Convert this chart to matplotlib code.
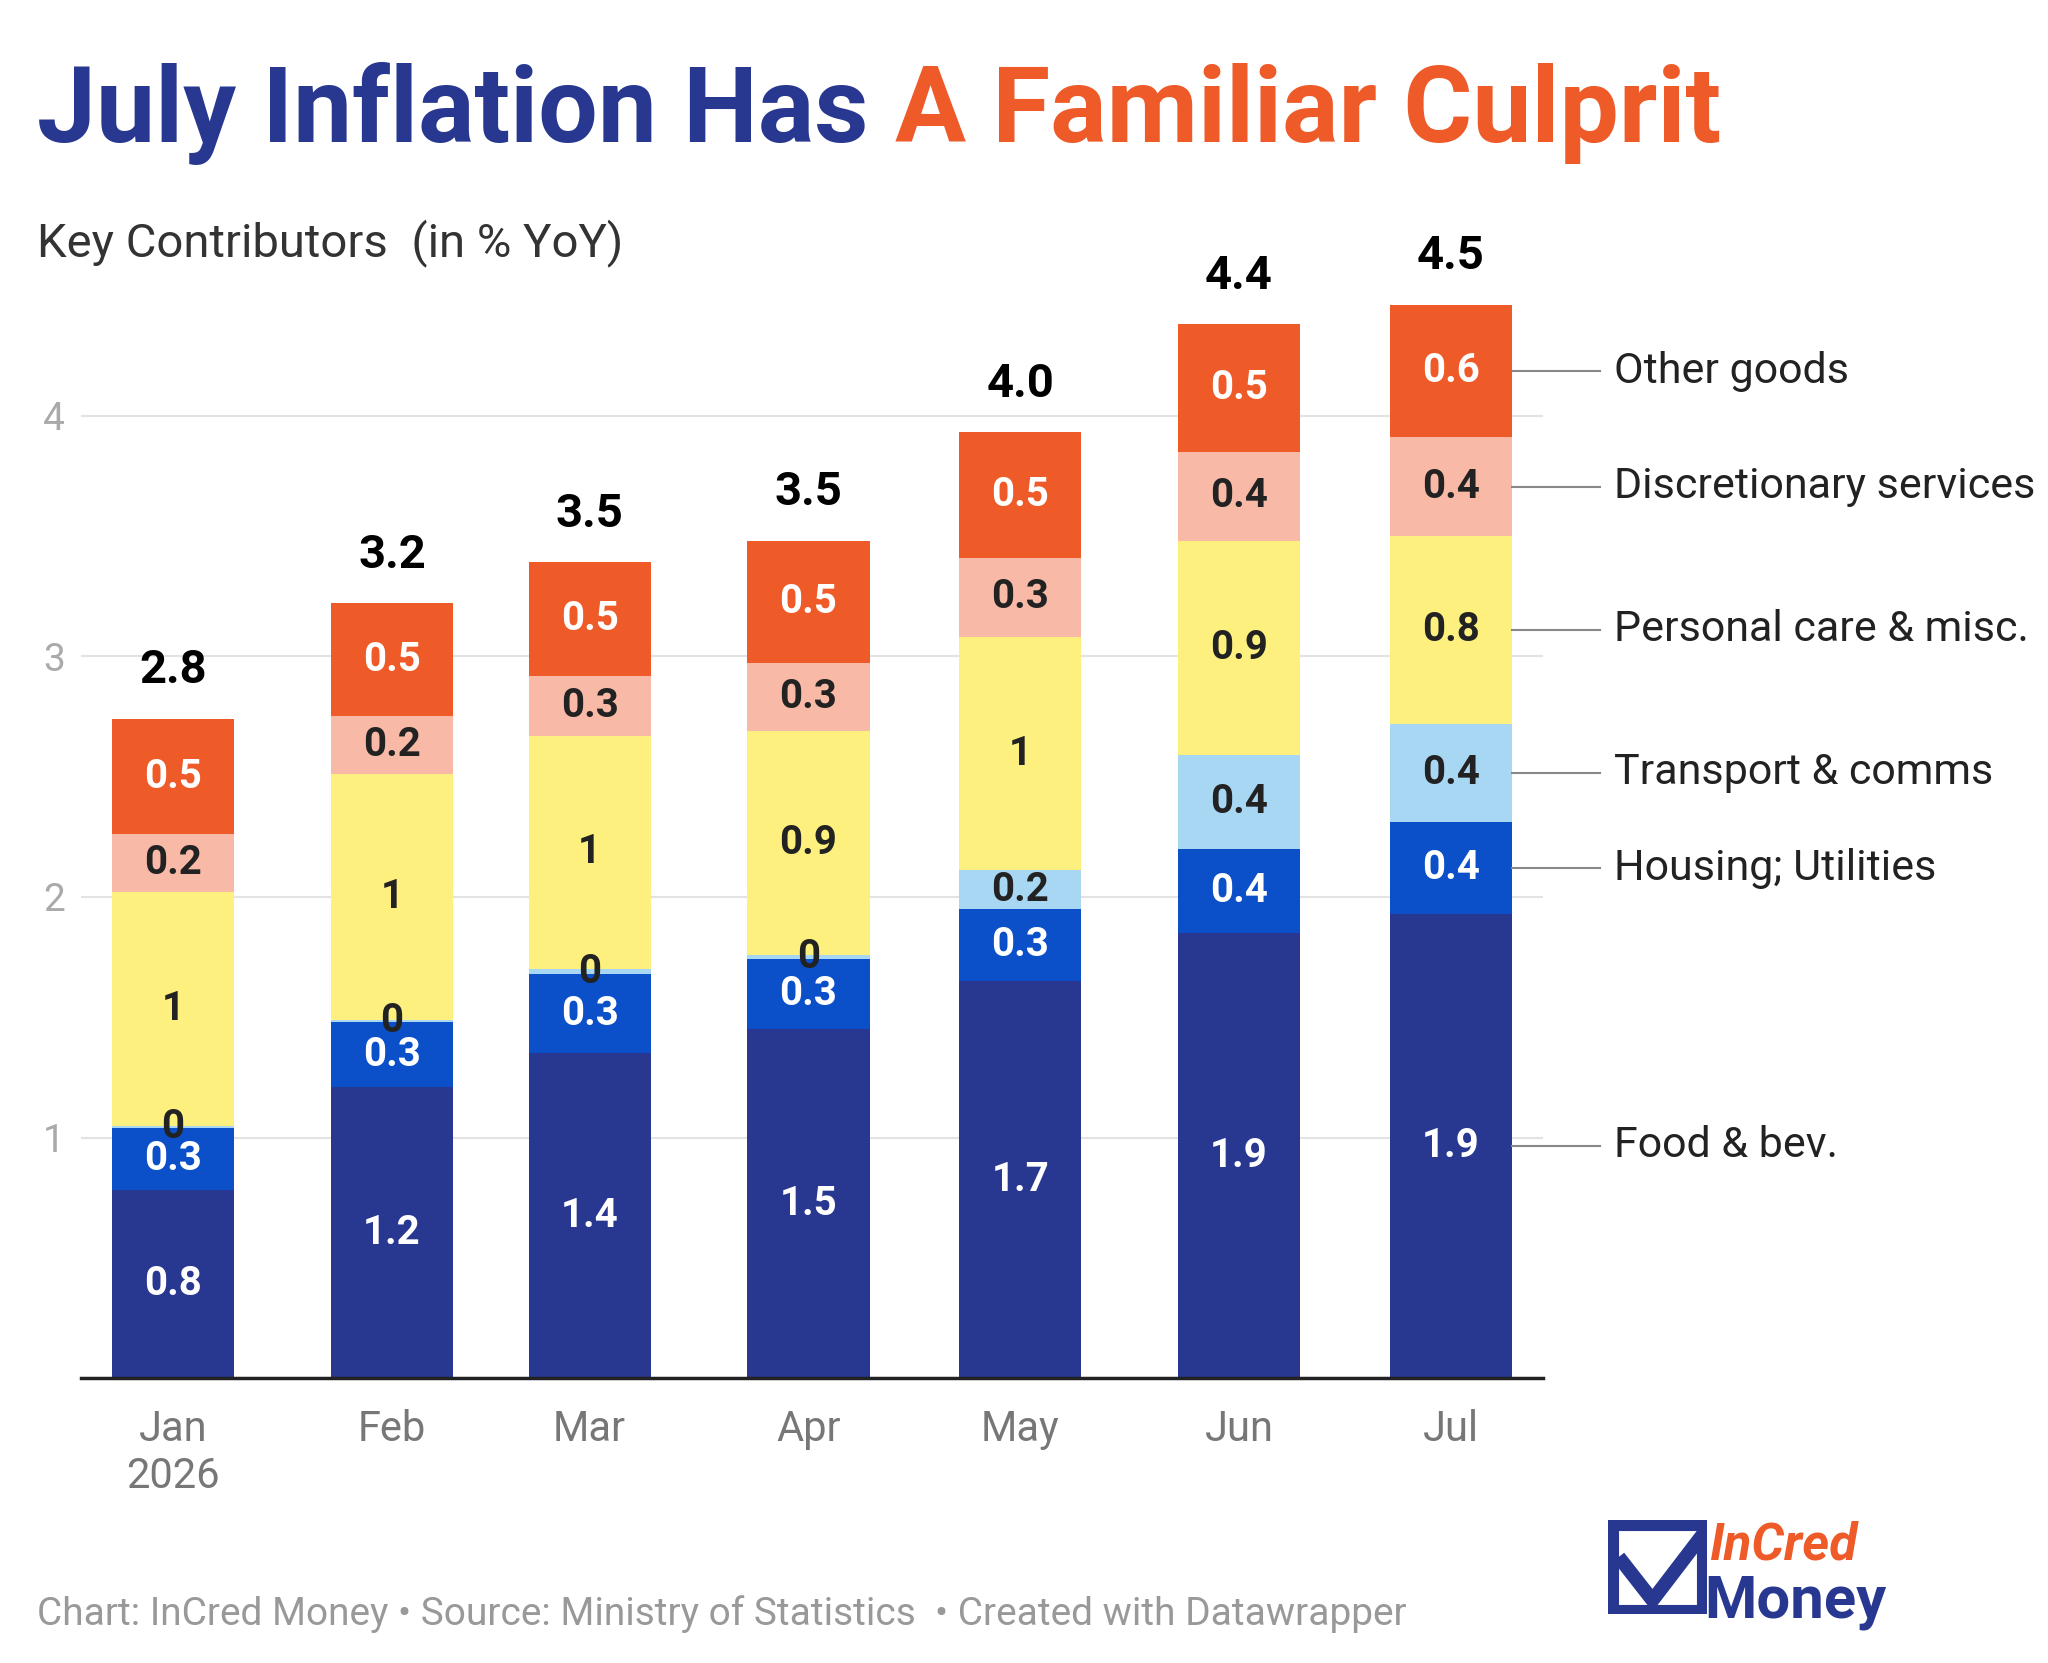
import matplotlib.pyplot as plt
import numpy as np

months = ["Jan\n2026", "Feb", "Mar", "Apr", "May", "Jun", "Jul"]
day_pos = [0, 31, 59, 90, 120, 151, 181]
series = ["Food & bev.", "Housing; Utilities", "Transport & comms",
          "Personal care & misc.", "Discretionary services", "Other goods"]
food = [0.78, 1.21, 1.35, 1.45, 1.65, 1.85, 1.93]
housing = [0.26, 0.27, 0.33, 0.29, 0.30, 0.35, 0.38]
transport = [0.01, 0.01, 0.02, 0.02, 0.16, 0.39, 0.41]
personal = [0.97, 1.02, 0.97, 0.93, 0.97, 0.89, 0.78]
discretionary = [0.24, 0.24, 0.25, 0.28, 0.33, 0.37, 0.41]
other = [0.48, 0.47, 0.47, 0.51, 0.52, 0.53, 0.55]
food_lbl = ["0.8", "1.2", "1.4", "1.5", "1.7", "1.9", "1.9"]
housing_lbl = ["0.3", "0.3", "0.3", "0.3", "0.3", "0.4", "0.4"]
transport_lbl = ["0", "0", "0", "0", "0.2", "0.4", "0.4"]
personal_lbl = ["1", "1", "1", "0.9", "1", "0.9", "0.8"]
discretionary_lbl = ["0.2", "0.2", "0.3", "0.3", "0.3", "0.4", "0.4"]
other_lbl = ["0.5", "0.5", "0.5", "0.5", "0.5", "0.5", "0.6"]
totals = ["2.8", "3.2", "3.5", "3.5", "4.0", "4.4", "4.5"]

values = [food, housing, transport, personal, discretionary, other]
labels = [food_lbl, housing_lbl, transport_lbl, personal_lbl, discretionary_lbl, other_lbl]
colors = ["#283891", "#0b4fc9", "#a8d7f4", "#fdf07f", "#f8b9a7", "#ee5a28"]
txt_colors = ["white", "white", "#222222", "#222222", "#222222", "white"]

plt.rcParams['font.family'] = ['Roboto', 'DejaVu Sans']
W, H = 1560, 1267
fig = plt.figure(figsize=(20.48, 16.63), dpi=100)
ax = fig.add_axes([62 / W, 1 - 1050 / H, (1175 - 62) / W, (1050 - 225) / H])

x = np.array(day_pos)
bw = 17.3
bottom = np.zeros(len(x))
for vals, lbls, c, tc in zip(values, labels, colors, txt_colors):
    ax.bar(x, vals, bw, bottom=bottom, color=c, zorder=2)
    for xi, b, v, l in zip(x, bottom, vals, lbls):
        ax.text(xi, b + v / 2, l, ha='center', va='center', color=tc,
                fontsize=29, fontweight='bold', zorder=3)
    bottom += np.array(vals)

for xi, top, t in zip(x, bottom, totals):
    ax.text(xi, top + 0.11, t, ha='center', va='bottom', fontsize=34,
            fontweight='bold', color='black', clip_on=False)

# right-side series labels at Jul segments
base = 0
for name, vals in zip(series, values):
    yc = base + vals[-1] / 2
    base += vals[-1]
    ax.plot([x[-1] + bw / 2, x[-1] + bw / 2 + 12.5], [yc, yc], color='#888888',
            lw=1.5, clip_on=False)
    ax.text(x[-1] + bw / 2 + 14.5, yc, name, ha='left', va='center',
            fontsize=31, color='#222222', clip_on=False)

ax.set_xlim(-13, 194)
ax.set_ylim(0, 4.5)
ax.set_yticks([1, 2, 3, 4])
ax.set_yticklabels(["1", "2", "3", "4"], fontsize=28, color='#aaaaaa')
ax.set_xticks(x)
ax.set_xticklabels(months, fontsize=30, color='#777777')
ax.tick_params(length=0, pad=22)
ax.tick_params(axis='y', pad=12)
ax.grid(axis='y', color='#e3e3e3', lw=1.5, zorder=0)
for s in ['top', 'right', 'left']:
    ax.spines[s].set_visible(False)
ax.spines['bottom'].set_linewidth(2.5)
ax.spines['bottom'].set_color('#222222')

t1 = fig.text(28 / W, 1 - 108 / H, "July Inflation Has ", fontsize=76,
              fontweight='bold', color='#283891')
fig.canvas.draw()
bb = t1.get_window_extent()
fig.text(bb.x1 / fig.bbox.width, 1 - 108 / H, "A Familiar Culprit", fontsize=76,
         fontweight='bold', color='#ee5a28')

fig.text(28 / W, 1 - 195 / H, "Key Contributors  (in % YoY)", fontsize=34, color='#333333')
fig.text(28 / W, 1 - 1238 / H,
         "Chart: InCred Money \u2022 Source: Ministry of Statistics  \u2022 Created with Datawrapper",
         fontsize=28, color='#999999')

# logo
lax = fig.add_axes([1225 / W, 1 - 1230 / H, 75 / W, 72 / H])
lax.add_patch(plt.Rectangle((0.05, 0.05), 0.9, 0.9, fill=False, ec='#283891', lw=8))
lax.plot([0.15, 0.45, 1.0], [0.55, 0.15, 0.9], color='#283891', lw=10)
lax.set_xlim(0, 1)
lax.set_ylim(0, 1)
lax.axis('off')
fig.text(1302 / W, 1 - 1188 / H, "InCred", fontsize=37, fontweight='bold',
         style='italic', color='#ee5a28')
fig.text(1298 / W, 1 - 1232 / H, "Money", fontsize=43, fontweight='bold', color='#283891')

fig.savefig("out.png", dpi=100)
